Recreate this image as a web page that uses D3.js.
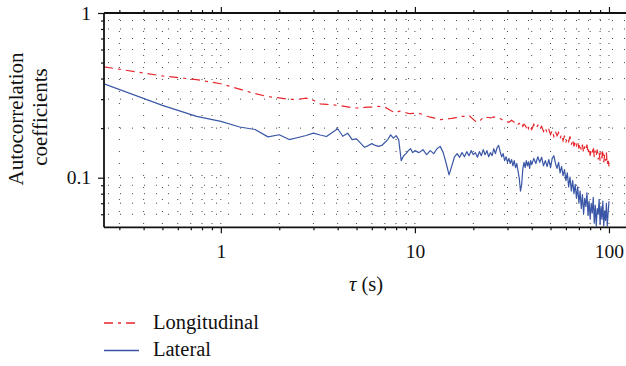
<!DOCTYPE html>
<html>
<head>
<meta charset="utf-8">
<script src="https://cdn.jsdelivr.net/npm/d3@7"></script>
<style>
  html, body { margin: 0; padding: 0; background: #fff; }
  svg { display: block; }
  text { font-family: "Liberation Serif", "DejaVu Serif", serif; fill: #111; }
</style>
</head>
<body>
<svg id="chart" width="626" height="366"></svg>
<script>
// ---- data ----
const tauSmooth = [0.25,0.5,0.75,1,1.25,1.5,1.75,2,2.25,2.5,2.75,3,3.25,3.5,3.75,4,4.25,4.5,4.75,5,5.25,5.5,5.75,6,6.25,6.5,6.75,7,7.25,7.5,7.75,8,8.25,8.5,8.75,9,9.25,9.5,9.75,10];
const tauMid = [10.5,11,11.5,12,12.5,13,13.5,14,14.5,15,15.5,16,16.5,17,17.5,18,18.5,19,19.5,20,20.5,21,21.5,22,22.5,23,23.5,24,24.5,25,25.5,26,26.5,27,27.5,28,28.5,29,29.5,30,30.5,31,31.5,32,32.5,33,33.5,34,34.5,35,35.5,36,36.5,37,37.5,38,38.5,39,39.5,40];
const tauTail = [41,42,43,44,45,46,47,48,49,50,51,52,53,54,55,56,57,58,59,60,61,62,63,64,65,66,67,68,69,70,71,72,73,74,75,76,77,78,79,80,81,82,83,84,85,86,87,88,89,90,91,92,93,94,95,96,97,98,99,100];

const longitudinal = [
  0.471,0.415,0.394,0.372,0.345,0.324,0.3105,0.305,0.299,0.299,0.304,0.295,0.281,0.279,0.277,0.275,0.272,0.269,0.266,0.265,
  0.266,0.267,0.268,0.268,0.270,0.271,0.269,0.268,0.262,0.256,0.251,0.248,0.2526,0.254,0.251,0.248,0.246,0.245,0.246,0.246,
  0.246,0.242,0.237,0.233,0.231,0.226,0.225,0.226,0.227,0.228,0.229,0.231,0.232,0.232,0.236,0.236,0.239,0.239,0.232,0.226,
  0.220,0.217,0.220,0.226,0.232,0.236,0.232,0.232,0.231,0.232,0.234,0.232,0.231,0.231,0.229,0.226,0.223,0.220,0.218,0.218,
  0.217,0.220,0.223,0.220,0.217,0.214,0.217,0.211,0.214,0.208,0.214,0.205,0.211,0.208,0.202,0.211,0.199,0.208,0.202,0.196,
  0.211,0.199,0.208,0.196,0.205,0.191,0.202,0.186,0.196,0.183,0.194,0.178,0.191,0.180,0.188,0.173,0.183,0.168,0.180,0.164,
  0.175,0.166,0.178,0.159,0.171,0.155,0.168,0.157,0.166,0.150,0.161,0.146,0.159,0.142,0.155,0.148,0.159,0.140,0.152,0.136,
  0.148,0.142,0.155,0.133,0.146,0.136,0.148,0.129,0.142,0.127,0.144,0.131,0.148,0.124,0.138,0.127,0.142,0.120,0.131,0.117
];

const lateral = [
  0.372,0.275,0.2355,0.2196,0.2032,0.1962,0.177,0.1824,0.1705,0.1754,0.1804,0.1865,0.1817,0.1779,0.1881,0.1982,0.1786,0.1865,0.1705,0.172,
  0.162,0.153,0.1567,0.161,0.157,0.155,0.157,0.1635,0.1705,0.182,0.174,0.180,0.1705,0.127,0.136,0.140,0.146,0.150,0.142,0.146,
  0.142,0.148,0.138,0.146,0.140,0.150,0.155,0.142,0.122,0.104,0.118,0.134,0.140,0.133,0.142,0.134,0.144,0.136,0.146,0.138,
  0.142,0.133,0.144,0.136,0.148,0.138,0.146,0.134,0.142,0.136,0.150,0.140,0.152,0.157,0.144,0.134,0.140,0.127,0.134,0.124,
  0.131,0.122,0.129,0.118,0.127,0.115,0.122,0.110,0.099,0.083,0.091,0.114,0.124,0.115,0.127,0.118,0.125,0.114,0.127,0.120,
  0.131,0.122,0.134,0.124,0.133,0.118,0.127,0.117,0.129,0.115,0.131,0.136,0.122,0.114,0.124,0.107,0.117,0.103,0.112,0.096,
  0.107,0.088,0.101,0.083,0.096,0.080,0.091,0.075,0.088,0.070,0.083,0.065,0.079,0.060,0.075,0.067,0.081,0.059,0.072,0.056,
  0.070,0.061,0.076,0.053,0.068,0.051,0.065,0.060,0.074,0.052,0.067,0.056,0.072,0.051,0.063,0.055,0.070,0.051,0.061,0.072
];

const xMajor = [1, 10, 100];
const xMinor = [0.3,0.4,0.5,0.6,0.7,0.8,0.9,2,3,4,5,6,7,8,9,20,30,40,50,60,70,80,90];
const yMajor = [0.1, 1];
const yMinor = [0.06,0.07,0.08,0.09,0.2,0.3,0.4,0.5,0.6,0.7,0.8,0.9];
const seriesNames = ["Longitudinal", "Lateral"];
const xLabel = "τ";
const xUnit = " (s)";
const yLabelLines = ["Autocorrelation", "coefficients"];

// ---- layout ----
const tau = tauSmooth.concat(tauMid, tauTail);
const L = 104, R = 626, T = 13, B = 227.3;
const x = d3.scaleLog().domain([0.25, 122.4]).range([L, R]);
const y = d3.scaleLog().domain([0.05, 1]).range([B, T]);

const svg = d3.select("#chart");

svg.append("defs").append("clipPath").attr("id", "clip")
  .append("rect").attr("x", L).attr("y", T).attr("width", R - L).attr("height", B - T);

// dotted grid
const grid = svg.append("g").attr("stroke", "#444").attr("stroke-width", 1)
  .attr("stroke-dasharray", "1,11").attr("fill", "none");
xMajor.concat(xMinor).forEach(v => {
  grid.append("line").attr("x1", x(v)).attr("x2", x(v)).attr("y1", T + 6).attr("y2", B);
});
yMajor.concat(yMinor).forEach(v => {
  grid.append("line").attr("y1", y(v)).attr("y2", y(v)).attr("x1", L + 4).attr("x2", R);
});

// series
const line = d3.line().x((d, i) => x(tau[i])).y(d => y(d));
const plot = svg.append("g").attr("clip-path", "url(#clip)");
plot.append("path").datum(lateral).attr("d", line)
  .attr("fill", "none").attr("stroke", "#3a56a6").attr("stroke-width", 1.2).attr("stroke-linejoin", "round");
plot.append("path").datum(longitudinal).attr("d", line)
  .attr("fill", "none").attr("stroke", "#e8262d").attr("stroke-width", 1.2)
  .attr("stroke-dasharray", "9,5,3,5");

// axes
function styleAxis(g) {
  g.select(".domain").remove();
  g.selectAll("line").attr("stroke", "#111").attr("stroke-width", 1.2);
  g.selectAll("text").attr("font-size", 19.5).attr("fill", "#111")
    .attr("font-family", '"Liberation Serif", "DejaVu Serif", serif');
}
svg.append("g").attr("transform", `translate(0,${B})`)
  .call(d3.axisBottom(x).tickValues(xMajor).tickSize(6).tickPadding(11).tickFormat(d3.format("~g"))).call(styleAxis);
svg.append("g").attr("transform", `translate(0,${B})`)
  .call(d3.axisBottom(x).tickValues(xMinor).tickSize(3).tickFormat("")).call(styleAxis);
svg.append("g").attr("transform", `translate(0,${T})`)
  .call(d3.axisTop(x).tickValues(xMajor).tickSize(6).tickFormat("")).call(styleAxis);
svg.append("g").attr("transform", `translate(0,${T})`)
  .call(d3.axisTop(x).tickValues(xMinor).tickSize(3).tickFormat("")).call(styleAxis);
svg.append("g").attr("transform", `translate(${L},0)`)
  .call(d3.axisLeft(y).tickValues(yMajor).tickSize(6).tickPadding(7).tickFormat(d3.format("~g"))).call(styleAxis);
svg.append("g").attr("transform", `translate(${L},0)`)
  .call(d3.axisLeft(y).tickValues(yMinor).tickSize(3).tickFormat("")).call(styleAxis);

// axis frame lines (left, top, bottom)
const frame = svg.append("g").attr("stroke", "#111").attr("stroke-width", 1.8);
frame.append("line").attr("x1", L).attr("x2", L).attr("y1", T).attr("y2", B);
frame.append("line").attr("x1", L).attr("x2", R).attr("y1", T).attr("y2", T);
frame.append("line").attr("x1", L).attr("x2", R).attr("y1", B).attr("y2", B);

// axis titles
const xt = svg.append("text").attr("x", 366).attr("y", 291).attr("text-anchor", "middle").attr("font-size", 20.5);
xt.append("tspan").attr("font-style", "italic").text(xLabel);
xt.append("tspan").text(xUnit);

svg.append("text").attr("transform", "translate(23,119) rotate(-90)")
  .attr("text-anchor", "middle").attr("font-size", 21).text(yLabelLines[0]);
svg.append("text").attr("transform", "translate(47,117) rotate(-90)")
  .attr("text-anchor", "middle").attr("font-size", 21).text(yLabelLines[1]);

// legend
const legend = svg.append("g");
const legY = [323, 350.5];
const legBase = [329.3, 356];
const legStyles = [{stroke: "#e8262d", dash: "9,5,3,5"}, {stroke: "#3a56a6", dash: null}];
seriesNames.forEach((name, i) => {
  legend.append("line").attr("x1", 104).attr("x2", 139).attr("y1", legY[i]).attr("y2", legY[i])
    .attr("stroke", legStyles[i].stroke).attr("stroke-width", 1.3)
    .attr("stroke-dasharray", legStyles[i].dash);
  legend.append("text").attr("x", 153).attr("y", legBase[i]).attr("font-size", 20.5).text(name);
});
</script>
</body>
</html>
